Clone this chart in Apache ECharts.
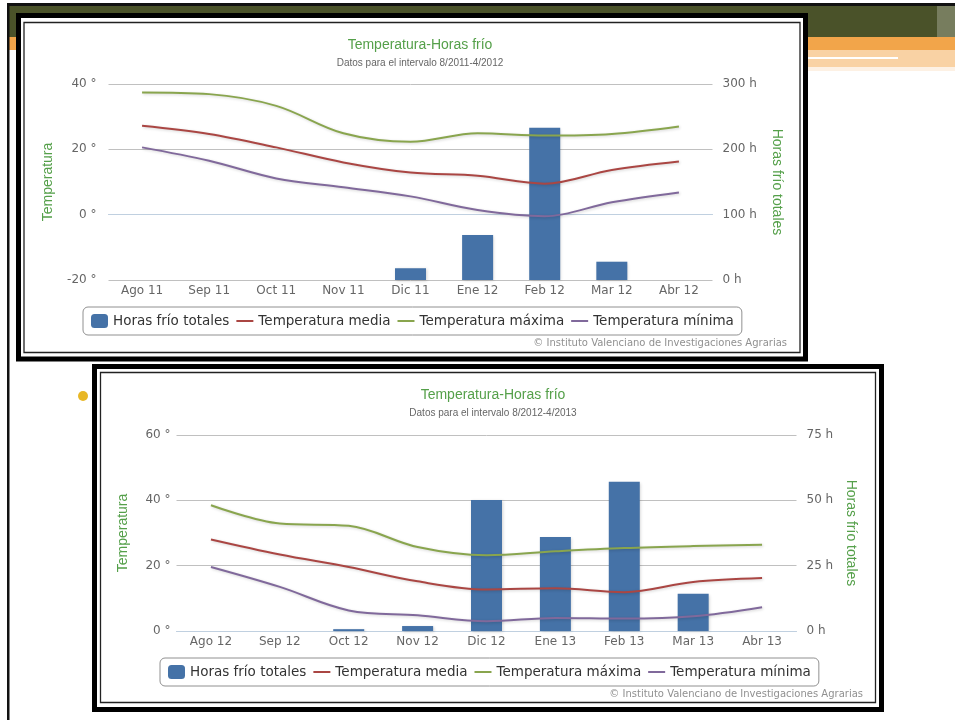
<!DOCTYPE html>
<html>
<head>
<meta charset="utf-8">
<script src="https://cdn.jsdelivr.net/npm/echarts@6/dist/echarts.min.js"></script>
<style>
html,body{margin:0;padding:0;background:#fff;}
#main{width:955px;height:720px;}
</style>
</head>
<body>
<div id="main"></div>
<script>
// ---- Data ----
var categories1 = ['Ago 11','Sep 11','Oct 11','Nov 11','Dic 11','Ene 12','Feb 12','Mar 12','Abr 12'];
var horas1 = [0, 0, 0, 0, 18, 69, 233, 28, 0];
var media1 = [27.2, 24.7, 20.6, 16.0, 12.9, 11.9, 9.5, 13.7, 16.3];
var maxima1 = [37.4, 36.9, 33.3, 24.9, 22.3, 24.9, 24.2, 24.7, 27.0];
var minima1 = [20.6, 16.5, 11.1, 8.4, 5.6, 1.4, -0.5, 3.8, 6.8];

var categories2 = ['Ago 12','Sep 12','Oct 12','Nov 12','Dic 12','Ene 13','Feb 13','Mar 13','Abr 13'];
var horas2 = [0, 0, 0.7, 1.9, 50.1, 36.0, 57.1, 14.3, 0];
var media2 = [28.0, 23.4, 19.6, 15.2, 12.7, 13.1, 11.9, 15.0, 16.2];
var maxima2 = [38.5, 32.9, 32.2, 25.7, 23.2, 24.4, 25.4, 26.0, 26.4];
var minima2 = [19.6, 13.5, 6.3, 4.8, 3.0, 4.0, 3.8, 4.5, 7.3];

var tempTicks1 = {min: -20, max: 40, interval: 20};
var horasTicks1 = {min: 0, max: 300, interval: 100};
var tempTicks2 = {min: 0, max: 60, interval: 20};
var horasTicks2 = {min: 0, max: 75, interval: 25};

var titleText = 'Temperatura-Horas frío';
var subtitle1 = 'Datos para el intervalo 8/2011-4/2012';
var subtitle2 = 'Datos para el intervalo 8/2012-4/2013';
var credits = '© Instituto Valenciano de Investigaciones Agrarias';
var seriesNames = ['Horas frío totales', 'Temperatura media', 'Temperatura máxima', 'Temperatura mínima'];

// ---- Styles ----
var GREEN = '#55a04a';
var COLORS = ['#4572A7', '#AA4643', '#89A54E', '#80699B'];
var FONT = 'DejaVu Sans';

var chart = echarts.init(document.getElementById('main'), null, {renderer: 'canvas'});

function makeTitle(sub, cx, top) {
  return {
    text: titleText, subtext: sub, left: cx, top: top, textAlign: 'center', itemGap: 6,
    textStyle: {color: GREEN, fontSize: 14, fontWeight: 'normal', fontFamily: 'Liberation Sans'},
    subtextStyle: {color: '#666', fontSize: 10, fontFamily: 'Liberation Sans'}
  };
}
function makeX(cats, gi) {
  return {
    type: 'category', data: cats, gridIndex: gi, boundaryGap: true,
    axisLine: {lineStyle: {color: '#C0D0E0'}},
    axisTick: {alignWithLabel: true, length: 5, lineStyle: {color: '#C0D0E0'}},
    axisLabel: {color: '#666', fontSize: 12, fontFamily: FONT, margin: 5},
    splitLine: {show: false}
  };
}
function makeYTemp(t, gi, gap, margin) {
  return {
    type: 'value', gridIndex: gi, min: t.min, max: t.max, interval: t.interval, position: 'left',
    name: 'Temperatura', nameLocation: 'middle', nameGap: gap, nameRotate: 90,
    nameTextStyle: {color: GREEN, fontSize: 14, fontFamily: 'Liberation Sans'},
    axisLine: {show: false}, axisTick: {show: false},
    axisLabel: {color: '#666', fontSize: 12, fontFamily: FONT, formatter: '{value} °', margin: margin},
    splitLine: {lineStyle: {color: '#C0C0C0', width: 1}}
  };
}
function makeYHoras(t, gi, gap, margin) {
  return {
    type: 'value', gridIndex: gi, min: t.min, max: t.max, interval: t.interval, position: 'right',
    name: 'Horas frío totales', nameLocation: 'middle', nameGap: gap, nameRotate: -90,
    nameTextStyle: {color: GREEN, fontSize: 14, fontFamily: 'Liberation Sans'},
    axisLine: {show: false}, axisTick: {show: false},
    axisLabel: {color: '#666', fontSize: 12, fontFamily: FONT, formatter: '{value} h', margin: margin},
    splitLine: {show: false}
  };
}
function makeLegend(left, top) {
  var hideSym = {opacity: 0};
  return {
    left: left, top: top, orient: 'horizontal',
    data: [
      {name: seriesNames[0], icon: 'roundRect'},
      {name: seriesNames[1], itemStyle: hideSym},
      {name: seriesNames[2], itemStyle: hideSym},
      {name: seriesNames[3], itemStyle: hideSym}
    ],
    itemWidth: 17, itemHeight: 14, itemGap: 6,
    padding: [7, 8, 7, 8], borderColor: '#909090', borderWidth: 1, borderRadius: 5,
    textStyle: {color: '#333', fontSize: 13.5, fontFamily: FONT}
  };
}
var shadow = {shadowColor: 'rgba(0,0,0,0.18)', shadowBlur: 3, shadowOffsetX: 1, shadowOffsetY: 1};
function makeSeries(xi, yT, yH, horas, media, maxima, minima) {
  var lines = [[media, 1], [maxima, 2], [minima, 3]].map(function (p) {
    return {
      name: seriesNames[p[1]], type: 'line', xAxisIndex: xi, yAxisIndex: yT, data: p[0],
      smooth: 0.35, symbol: 'none', z: 3,
      lineStyle: Object.assign({width: 2, color: COLORS[p[1]]}, shadow),
      itemStyle: {color: COLORS[p[1]]}
    };
  });
  return [{
    name: seriesNames[0], type: 'bar', xAxisIndex: xi, yAxisIndex: yH, data: horas, barWidth: 31,
    itemStyle: Object.assign({color: COLORS[0]}, shadow)
  }].concat(lines);
}

// ---- Slide decoration ----
var graphics = [
  {type: 'rect', z: -10, shape: {x: 7, y: 3, width: 948, height: 3}, style: {fill: '#111'}},
  {type: 'rect', z: -10, shape: {x: 7, y: 6, width: 948, height: 31}, style: {fill: '#4a5229'}},
  {type: 'rect', z: -10, shape: {x: 937, y: 6, width: 18, height: 64}, style: {fill: 'rgba(255,255,255,0.25)'}},
  {type: 'rect', z: -10, shape: {x: 7, y: 37, width: 948, height: 13}, style: {fill: '#F2A54A'}},
  {type: 'rect', z: -10, shape: {x: 7, y: 50, width: 948, height: 17}, style: {fill: '#F9D2A4'}},
  {type: 'rect', z: -10, shape: {x: 808, y: 57, width: 90, height: 2}, style: {fill: '#fff'}},
  {type: 'rect', z: -10, shape: {x: 7, y: 67, width: 948, height: 4}, style: {fill: '#FDF1E4'}},
  {type: 'rect', z: -10, shape: {x: 7, y: 50, width: 9, height: 21}, style: {fill: '#fff'}},
  {type: 'rect', z: -9, shape: {x: 7, y: 3, width: 2.5, height: 717}, style: {fill: '#111'}},
  // chart 1 frame
  {type: 'rect', z: -8, shape: {x: 18.5, y: 15.5, width: 787, height: 343.5}, style: {fill: '#fff', stroke: '#000', lineWidth: 5}},
  {type: 'rect', z: -7, shape: {x: 24, y: 22.5, width: 776, height: 330}, style: {fill: '#fff', stroke: '#222', lineWidth: 1.3}},
  // chart 2 frame
  {type: 'rect', z: -8, shape: {x: 94.5, y: 366.5, width: 787, height: 343}, style: {fill: '#fff', stroke: '#000', lineWidth: 5}},
  {type: 'rect', z: -7, shape: {x: 100.5, y: 372.5, width: 775, height: 330}, style: {fill: '#fff', stroke: '#222', lineWidth: 1.3}},
  // bullet
  {type: 'circle', z: -7, shape: {cx: 83, cy: 396, r: 5}, style: {fill: '#E8B726'}},
  // credits
  {type: 'text', z: 5, style: {text: credits, x: 787, y: 343, align: 'right', verticalAlign: 'middle', fill: '#909090', font: '10px "DejaVu Sans"'}},
  {type: 'text', z: 5, style: {text: credits, x: 863, y: 694, align: 'right', verticalAlign: 'middle', fill: '#909090', font: '10px "DejaVu Sans"'}}
];

var option = {
  animation: false,
  backgroundColor: '#fff',
  title: [makeTitle(subtitle1, 415, 33), makeTitle(subtitle2, 488, 383)],
  legend: [makeLegend(83, 307), makeLegend(160, 658)],
  grid: [
    {left: 108.5, top: 84, width: 604, height: 196, containLabel: false},
    {left: 176.5, top: 435, width: 620, height: 196, containLabel: false}
  ],
  xAxis: [makeX(categories1, 0), makeX(categories2, 1)],
  yAxis: [
    makeYTemp(tempTicks1, 0, 53, 12),
    makeYHoras(horasTicks1, 0, 57, 10),
    makeYTemp(tempTicks2, 1, 46, 6),
    makeYHoras(horasTicks2, 1, 46, 10)
  ],
  series: makeSeries(0, 0, 1, horas1, media1, maxima1, minima1)
    .concat(makeSeries(1, 2, 3, horas2, media2, maxima2, minima2)),
  graphic: graphics
};
chart.setOption(option);
</script>
</body>
</html>
